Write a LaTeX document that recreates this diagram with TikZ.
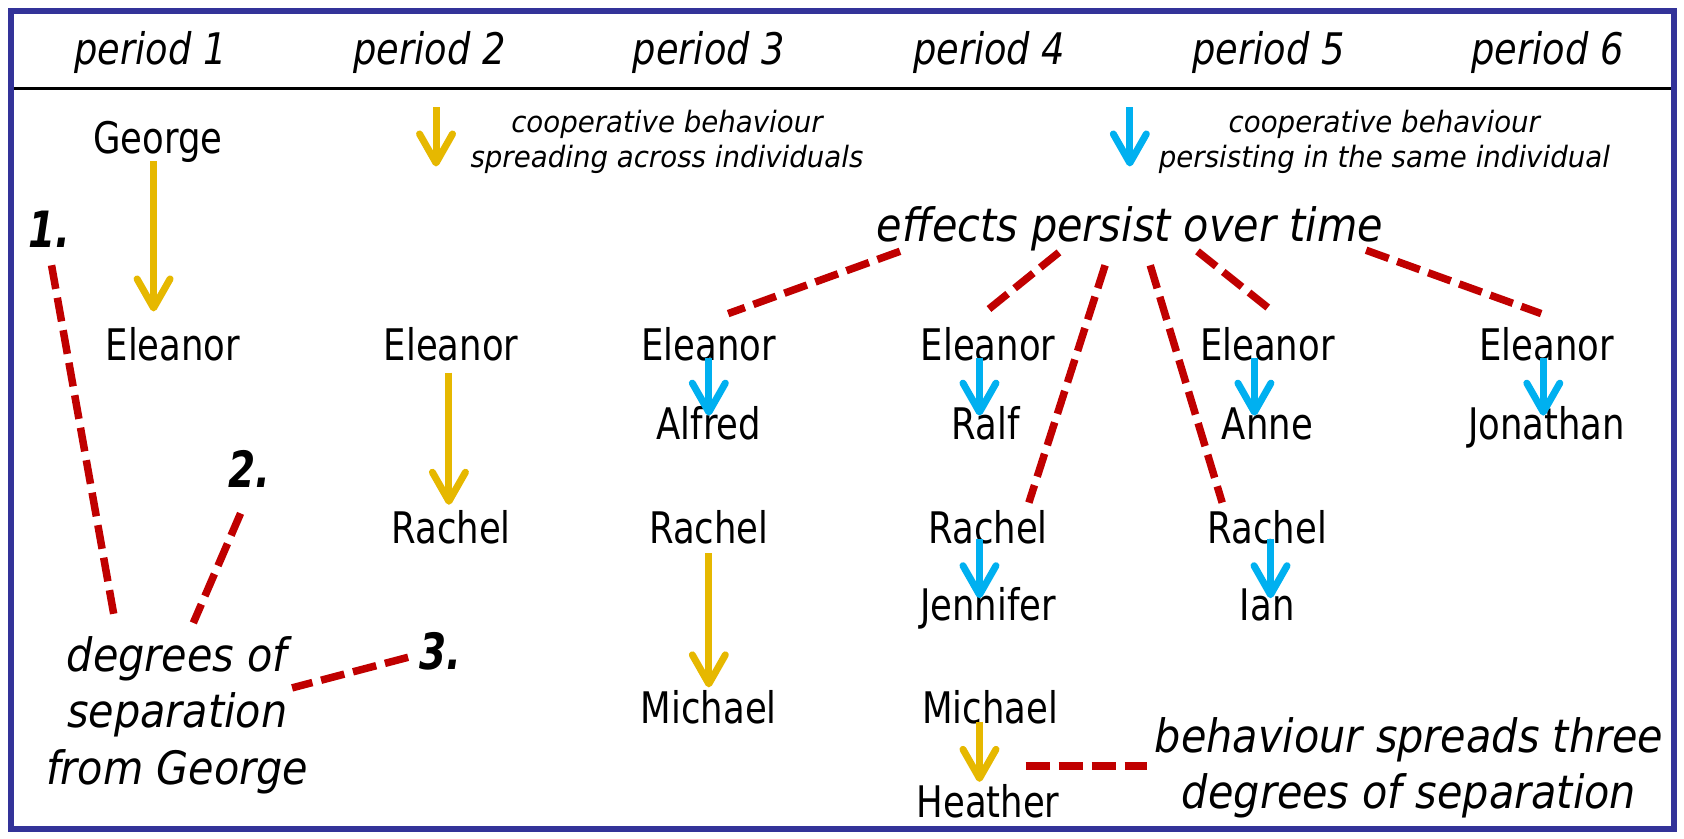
\documentclass[tikz,border=0pt]{standalone}
\usepackage{fontspec}
\setmainfont{DejaVu Sans}
\newfontfamily\fnName{DejaVu Sans}[FakeStretch=0.815]
\newfontfamily\fnHead{DejaVu Sans}[FakeStretch=0.845]
\newfontfamily\fnBig{DejaVu Sans}[FakeStretch=0.9]
\newfontfamily\fnLeg{DejaVu Sans}[FakeStretch=0.94]
\newfontfamily\fnNum{DejaVu Sans}[FakeStretch=0.78]
\usetikzlibrary{arrows.meta}
\definecolor{gold}{HTML}{E6B800}
\definecolor{sky}{HTML}{00B0F0}
\definecolor{dred}{HTML}{C00000}
\definecolor{frameblue}{HTML}{333399}
\begin{document}
\begin{tikzpicture}[x=1.07398pt,y=-1.07398pt,
  person/.style={font=\fnName\fontsize{43.5}{50}\selectfont, inner sep=0pt, anchor=base},
  head/.style={font=\fnHead\itshape\fontsize{43.5}{50}\selectfont, inner sep=0pt, anchor=base},
  big/.style={font=\fnBig\itshape\fontsize{46}{56.5}\selectfont, inner sep=0pt, align=center},
  legend/.style={font=\fnLeg\itshape\fontsize{29.4}{35}\selectfont, inner sep=0pt, align=center, anchor=north},
  num/.style={font=\fnNum\bfseries\itshape\fontsize{50}{56}\selectfont, inner sep=0pt, anchor=base},
  yarr/.style={draw=gold, line width=7pt, -{Straight Barb[length=29pt,width=33pt,round]}},
  barr/.style={draw=sky, line width=7pt, -{Straight Barb[length=29pt,width=33pt,round]}},
  rdash/.style={draw=dred, line width=7.5pt, dash pattern=on 24pt off 9pt},
]
\useasboundingbox (0,0) rectangle (1568,781.2);
\fill[white] (0,0) rectangle (1568,781.2);
\draw[frameblue, line width=6.5pt] (10.24,10.24) rectangle (1558.7,771.9);
\draw[line width=3.3pt] (13,82.4) -- (1555.7,82.4);

% header
\node[head] (p1) at (140,60) {period 1};
\node[head] (p2) at (400,60) {period 2};
\node[head] (p3) at (660,60) {period 3};
\node[head] (p4) at (921,60) {period 4};
\node[head] (p5) at (1181,60) {period 5};
\node[head] (p6) at (1441,60) {period 6};

% legends
\coordinate (ly1) at (406,100); \coordinate (ly2) at (406,155);
\coordinate (lb1) at (1052,100); \coordinate (lb2) at (1052,155);
\draw[yarr] (ly1) -- (ly2);
\draw[barr] (lb1) -- (lb2);
\node[legend] (legy) at (621,102) {cooperative behaviour\\spreading across individuals};
\node[legend] (legb) at (1289,102) {cooperative behaviour\\persisting in the same individual};

% people
\node[person] (george) at (147,143) {George};
\node[person] (el1) at (161,336) {Eleanor};
\node[person] (el2) at (420,336) {Eleanor};
\node[person] (ra2) at (420,506) {Rachel};
\node[person] (el3) at (660,336) {Eleanor};
\node[person] (al3) at (660,409) {Alfred};
\node[person] (ra3) at (660,506) {Rachel};
\node[person] (mi3) at (660,674) {Michael};
\node[person] (el4) at (920,336) {Eleanor};
\node[person] (ral4) at (918,409) {Ralf};
\node[person] (ra4) at (920,506) {Rachel};
\node[person] (je4) at (920,578) {Jennifer};
\node[person] (mi4) at (922,674) {Michael};
\node[person] (he4) at (920,761) {Heather};
\node[person] (el5) at (1180,336) {Eleanor};
\node[person] (an5) at (1180,409) {Anne};
\node[person] (ra5) at (1180,506) {Rachel};
\node[person] (ia5) at (1180,578) {Ian};
\node[person] (el6) at (1440,336) {Eleanor};
\node[person] (jo6) at (1440,409) {Jonathan};

% arrows
\draw[yarr] ([shift={(-4,7)}]george.base) -- ([shift={(-18,-46)}]el1.base);
\draw[yarr] ([shift={(-2,11)}]el2.base) -- ([shift={(-2,-36)}]ra2.base);
\draw[barr] ([shift={(0,-3)}]el3.base) -- ([shift={(0,-22)}]al3.base);
\draw[yarr] ([shift={(0,9)}]ra3.base) -- ([shift={(0,-34)}]mi3.base);
\draw[barr] ([shift={(-8,-3)}]el4.base) -- ([shift={(-6,-22)}]ral4.base);
\draw[barr] ([shift={(-8,-4)}]ra4.base) -- ([shift={(-8,-21)}]je4.base);
\draw[yarr] ([shift={(-10,-2)}]mi4.base) -- ([shift={(-8,-33)}]he4.base);
\draw[barr] ([shift={(-12,-3)}]el5.base) -- ([shift={(-12,-22)}]an5.base);
\draw[barr] ([shift={(3,-4)}]ra5.base) -- ([shift={(3,-21)}]ia5.base);
\draw[barr] ([shift={(-3,-3)}]el6.base) -- ([shift={(-3,-22)}]jo6.base);

% effects persist
\node[big, anchor=base] (eff) at (1052,225) {effects persist over time};
\draw[rdash] ([shift={(-214,9)}]eff.base) -- ([shift={(18,-44)}]el3.base);
\draw[rdash] ([shift={(-66,10)}]eff.base) -- ([shift={(-2,-46)}]el4.base);
\draw[rdash] ([shift={(-23,22)}]eff.base) -- ([shift={(38,-38)}]ra4.base);
\draw[rdash] ([shift={(19,22)}]eff.base) -- ([shift={(-42,-38)}]ra5.base);
\draw[rdash] ([shift={(63,9)}]eff.base) -- ([shift={(5,-46)}]el5.base);
\draw[rdash] ([shift={(220,8)}]eff.base) -- ([shift={(-5,-44)}]el6.base);

% degrees of separation
\node[big, anchor=north] (deg) at (165,592.5) {degrees of\\separation\\from George};
\node[num] (one) at (46,230) {1.};
\node[num] (two) at (232,454) {2.};
\node[num] (three) at (410,623) {3.};
\draw[rdash] ([shift={(2,17)}]one.base) -- ([shift={(-58,-14.5)}]deg.north);
\draw[rdash] ([shift={(-8,24)}]two.base) -- ([shift={(15,-12.5)}]deg.north);
\draw[rdash] ([shift={(-30,-11)}]three.base) -- ([shift={(107,48)}]deg.north);

% behaviour spreads
\node[big, anchor=north] (beh) at (1312,667.5) {behaviour spreads three\\degrees of separation};
\draw[rdash] ([shift={(35,-48)}]he4.base) -- ([shift={(-244,45.5)}]beh.north);
\end{tikzpicture}
\end{document}
